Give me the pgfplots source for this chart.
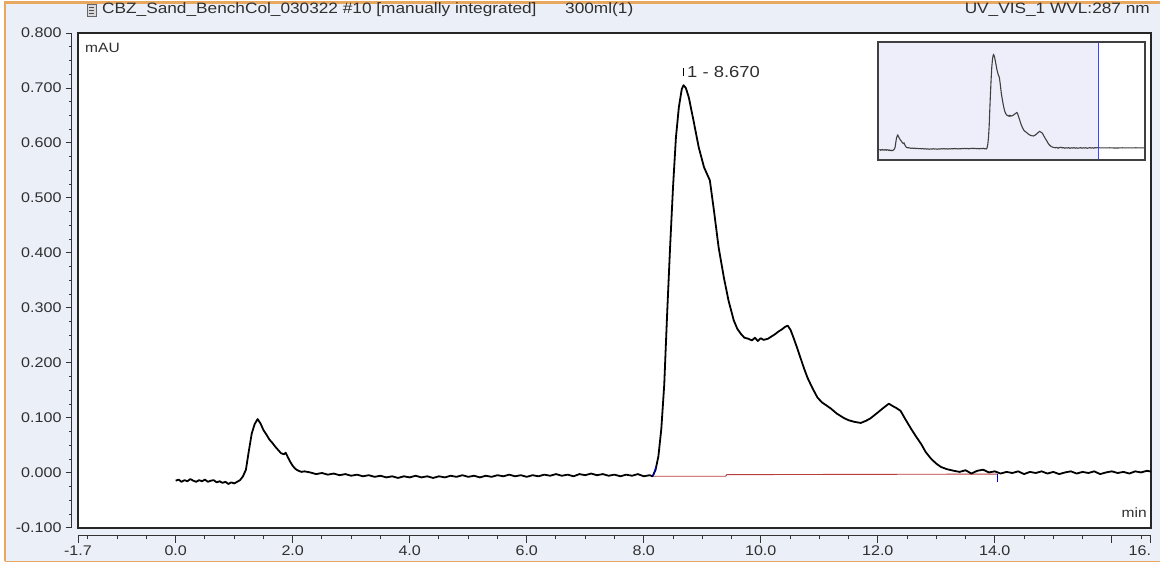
\documentclass[border=0pt]{standalone}
\usepackage{pgfplots}
\usepackage{pgfplotstable}
\pgfplotsset{compat=1.18}
\usepackage{fontspec}
\setmainfont{Liberation Sans}[FakeStretch=1.15]
\definecolor{bgblue}{HTML}{EBF0F8}
\definecolor{frameorange}{HTML}{E8A860}
\definecolor{lav}{HTML}{EEEEFA}
\definecolor{redbase}{HTML}{B83C3C}
\definecolor{txt}{HTML}{303030}

\pgfplotstableread{
t v
0.00 -0.014
0.05 -0.012
0.10 -0.016
0.15 -0.013
0.20 -0.015
0.25 -0.011
0.30 -0.014
0.35 -0.016
0.40 -0.013
0.45 -0.015
0.50 -0.012
0.55 -0.016
0.60 -0.014
0.65 -0.013
0.70 -0.017
0.75 -0.015
0.80 -0.018
0.85 -0.016
0.90 -0.020
0.95 -0.017
1.00 -0.019
1.05 -0.016
1.10 -0.013
1.15 -0.006
1.20 0.006
1.25 0.040
1.30 0.072
1.35 0.089
1.40 0.098
1.45 0.090
1.50 0.078
1.55 0.070
1.60 0.061
1.65 0.055
1.70 0.048
1.75 0.042
1.80 0.036
1.85 0.034
1.88 0.037
1.92 0.028
1.96 0.020
2.00 0.013
2.05 0.007
2.10 0.004
2.15 0.002
2.20 0.003
2.30 0.001
2.40 -0.002
2.50 0.000
2.60 -0.003
2.70 -0.001
2.80 -0.004
2.90 -0.002
3.00 -0.005
3.10 -0.003
3.20 -0.006
3.30 -0.004
3.40 -0.007
3.50 -0.005
3.60 -0.008
3.70 -0.006
3.80 -0.009
3.90 -0.006
4.00 -0.008
4.10 -0.005
4.20 -0.008
4.30 -0.006
4.40 -0.009
4.50 -0.006
4.60 -0.008
4.70 -0.005
4.80 -0.007
4.90 -0.004
5.00 -0.007
5.10 -0.005
5.20 -0.008
5.30 -0.005
5.40 -0.007
5.50 -0.004
5.60 -0.006
5.70 -0.003
5.80 -0.006
5.90 -0.004
6.00 -0.007
6.10 -0.004
6.20 -0.006
6.30 -0.003
6.40 -0.005
6.50 -0.002
6.60 -0.005
6.70 -0.003
6.80 -0.006
6.90 -0.002
7.00 -0.004
7.10 -0.001
7.20 -0.004
7.30 -0.002
7.40 -0.005
7.50 -0.003
7.60 -0.006
7.70 -0.003
7.80 -0.005
7.90 -0.002
8.00 -0.006
8.10 -0.004
8.15 -0.006
8.20 0.005
8.25 0.030
8.30 0.080
8.35 0.160
8.40 0.290
8.45 0.410
8.50 0.519
8.55 0.610
8.60 0.665
8.65 0.698
8.68 0.705
8.72 0.700
8.77 0.683
8.85 0.641
8.94 0.592
9.03 0.556
9.13 0.532
9.20 0.477
9.28 0.410
9.37 0.355
9.45 0.313
9.54 0.277
9.60 0.262
9.66 0.253
9.72 0.246
9.79 0.244
9.85 0.241
9.90 0.246
9.95 0.240
10.00 0.245
10.05 0.242
10.12 0.244
10.18 0.248
10.24 0.252
10.30 0.257
10.36 0.261
10.42 0.266
10.46 0.268
10.51 0.260
10.56 0.246
10.62 0.228
10.68 0.209
10.74 0.190
10.80 0.173
10.88 0.155
10.97 0.137
11.05 0.128
11.12 0.123
11.20 0.117
11.30 0.108
11.42 0.100
11.50 0.096
11.60 0.093
11.71 0.091
11.80 0.095
11.87 0.099
11.93 0.104
12.00 0.110
12.08 0.117
12.14 0.122
12.19 0.126
12.25 0.122
12.32 0.118
12.39 0.113
12.47 0.098
12.56 0.082
12.65 0.067
12.74 0.053
12.82 0.038
12.91 0.026
13.00 0.017
13.08 0.011
13.18 0.007
13.30 0.004
13.40 0.002
13.50 0.005
13.60 -0.001
13.70 0.004
13.80 0.006
13.90 0.001
14.00 0.003
14.10 -0.001
14.20 0.002
14.30 0.000
14.40 0.003
14.50 -0.002
14.60 0.002
14.70 0.000
14.80 0.003
14.90 -0.001
15.00 0.002
15.10 -0.002
15.20 0.001
15.30 0.003
15.40 -0.001
15.50 0.002
15.60 0.000
15.70 0.003
15.80 -0.002
15.90 0.001
16.00 0.003
16.10 0.000
16.20 0.002
16.30 -0.001
16.40 0.003
16.50 0.001
16.60 0.004
16.70 0.002
17.00 0.001
17.50 0.002
18.00 0.000
18.50 0.002
19.00 0.001
19.50 0.002
20.20 0.001
}\chrom

\begin{document}
\begin{tikzpicture}[x=1pt,y=1pt]
\useasboundingbox (0,0) rectangle (1160,564);
\fill[white] (0,0) rectangle (1160,564);
\fill[bgblue] (6,3) rectangle (1160,561);
\draw[frameorange, line width=2.2pt] (5,2.5) -- (5,561.5) -- (1160,561.5);
\draw[frameorange, line width=1.5pt] (5,2.5) -- (1160,2.5);

% title line
\draw[black!60, fill=black!15] (87,548) rectangle (96,560);
\draw[black!70] (89,557) -- (94,557) (89,554) -- (94,554) (89,551) -- (94,551);
\node[anchor=west, inner sep=0, text=txt, font=\fontsize{15}{17}\selectfont] at (102,554) {CBZ\_Sand\_BenchCol\_030322 \#10 [manually integrated]};
\node[anchor=west, inner sep=0, text=txt, font=\fontsize{15}{17}\selectfont] at (565,554) {300ml(1)};
\node[anchor=east, inner sep=0, text=txt, font=\fontsize{15}{17}\selectfont] at (1150,554) {UV\_VIS\_1 WVL:287 nm};

% y tick axis
\begin{axis}[at={(72pt,36pt)}, anchor=south west, scale only axis,
  width=10pt, height=495pt, xmin=0, xmax=1, ymin=-0.1, ymax=0.8,
  axis y line*=left, hide x axis,
  axis line style={black!80, line width=1pt},
  ytick={-0.1,0,0.1,0.2,0.3,0.4,0.5,0.6,0.7,0.8},
  yticklabels={-0.100,0.000,0.100,0.200,0.300,0.400,0.500,0.600,0.700,0.800},
  minor y tick num=3, tick align=outside,
  major tick length=6pt, minor tick length=3pt,
  every tick/.style={black!80, line width=1pt},
  yticklabel style={text=txt, font=\fontsize{14}{16}\selectfont, xshift=-1pt}]
\end{axis}

% x tick axis
\begin{axis}[at={(78pt,28pt)}, anchor=south west, scale only axis,
  width=1073pt, height=10pt, xmin=-1.67, xmax=16.67, ymin=0, ymax=1,
  axis x line*=bottom, hide y axis,
  axis line style={black!80, line width=1pt},
  xtick={-1.67,0,2,4,6,8,10,12,14,16,16.67},
  xticklabels={-1.7,0.0,2.0,4.0,6.0,8.0,10.0,12.0,14.0,,\makebox[0pt][r]{16.}},
  minor xtick={-1.5,-1,-0.5,0.5,1,1.5,2.5,3,3.5,4.5,5,5.5,6.5,7,7.5,8.5,9,9.5,10.5,11,11.5,12.5,13,13.5,14.5,15,15.5,16.5},
  tick align=outside,
  major tick length=7pt, minor tick length=3.5pt,
  every tick/.style={black!80, line width=1pt},
  xticklabel style={text=txt, font=\fontsize{14}{16}\selectfont, yshift=1pt}]
\end{axis}

% main axis
\begin{axis}[at={(78pt,36pt)}, anchor=south west, scale only axis,
  width=1073pt, height=495pt, xmin=-1.67, xmax=16.67, ymin=-0.1, ymax=0.8,
  xtick=\empty, ytick=\empty,
  axis line style={black!85, line width=1.4pt},
  axis background/.style={fill=white}, clip=true]
\addplot[redbase, line width=0.9pt] coordinates {(8.17,-0.006) (9.40,-0.006) (9.42,-0.003) (14.05,-0.002)};
\addplot[black, line width=1.8pt, line join=round] table[x=t,y=v] {\chrom};
\addplot[blue!80!black, line width=1.1pt] coordinates {(8.16,-0.006) (8.21,0.012)};
\addplot[blue!80!black, line width=1.1pt] coordinates {(14.05,-0.002) (14.05,-0.017)};
\draw[black, line width=0.8pt] (axis cs:8.68,0.721) -- (axis cs:8.68,0.737);
\node[anchor=west, inner sep=0, text=txt, font=\fontsize{16}{18}\selectfont] at (axis cs:8.74,0.729) {1 - 8.670};
\node[anchor=west, inner sep=0, text=txt, font=\fontsize{13.5}{15}\selectfont] at (axis cs:-1.55,0.772) {mAU};
\node[anchor=east, inner sep=0, text=txt, font=\fontsize{13.5}{15}\selectfont] at (axis cs:16.6,-0.072) {min};
\end{axis}

% inset
\begin{axis}[at={(878pt,404pt)}, anchor=south west, scale only axis,
  width=267pt, height=118pt, xmin=-0.1, xmax=20.2, ymin=-0.09, ymax=0.80,
  ticks=none, axis line style={black!75, line width=1.1pt},
  axis background/.style={fill=white}, axis on top, clip=true]
\fill[lav] (axis cs:-0.1,-0.09) rectangle (axis cs:16.67,0.8);
\addplot[black!75, line width=1.1pt] table[x=t,y=v] {\chrom};
\draw[blue!75, line width=1pt] (axis cs:16.67,-0.09) -- (axis cs:16.67,0.8);
\end{axis}
\end{tikzpicture}
\end{document}
